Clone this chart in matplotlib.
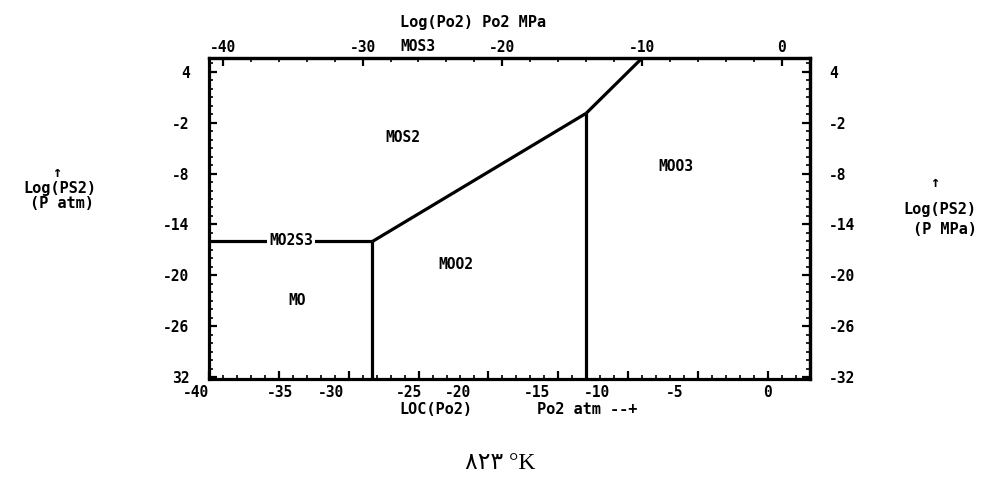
import matplotlib.pyplot as plt
from matplotlib.ticker import MultipleLocator, NullFormatter
import matplotlib.transforms as mtransforms

# Mo-S-O predominance diagram at 823 K
# x: log pO2 (atm), y: log pS2 (atm)
po2_lim = (-40, 3.0)
ps2_lim = (-32.2, 5.6)

# phase boundary segments (log pO2, log pS2)
mo2s3_mo_x = [-40, -28.3]
mo2s3_mo_y = [-16.0, -16.0]
mo_moo2_x = [-28.3, -28.3]
mo_moo2_y = [-16.0, -32.2]
mos2_moo2_x = [-28.3, -13.0]
mos2_moo2_y = [-16.0, -0.9]
mos2_moo3_x = [-13.0, -9.0]
mos2_moo3_y = [-0.9, 5.6]
moo2_moo3_x = [-13.0, -13.0]
moo2_moo3_y = [-0.9, -32.2]

# field labels
phase_names = ['MOS2', 'MOO3', 'MOO2', 'MO']
phase_x = [-26.1, -6.6, -22.3, -33.7]
phase_y = [-3.7, -7.2, -18.7, -23.0]

# bottom scale labels and where the plotter printed them
bottom_labels = ['-40', '-35', '-30', '-25', '-20', '-15', '-10', '-5', '0']
bottom_label_x = [-40.9, -34.9, -31.3, -25.7, -22.2, -16.5, -12.2, -6.7, 0.0]

top_ticks = [-40, -30, -20, -10, 0]
y_ticks = [4, -2, -8, -14, -20, -26, -32]
left_labels = ['4', '-2', '-8', '-14', '-20', '-26', '32']
right_labels = ['4', '-2', '-8', '-14', '-20', '-26', '-32']

atm_to_mpa = -0.994  # log10(0.101325)

mono = dict(family='DejaVu Sans Mono', weight='bold')
fs_tick = 10.5
fs_title = 11

fig = plt.figure(figsize=(9.98, 4.79), dpi=100)
ax = fig.add_axes([0.2094, 0.2088, 0.602, 0.670])

lw = 2.3
for xs, ys in [(mo2s3_mo_x, mo2s3_mo_y), (mo_moo2_x, mo_moo2_y),
               (mos2_moo2_x, mos2_moo2_y), (mos2_moo3_x, mos2_moo3_y),
               (moo2_moo3_x, moo2_moo3_y)]:
    ax.plot(xs, ys, color='black', lw=lw, solid_capstyle='butt')

for name, x, y in zip(phase_names, phase_x, phase_y):
    ax.text(x, y, name, ha='center', va='center', fontsize=fs_tick, **mono)

# label sitting on the Mo2S3 line
ax.text(-34.1, -15.9, 'MO2S3', ha='center', va='center', fontsize=fs_tick,
        bbox=dict(facecolor='white', edgecolor='none', pad=1.5), **mono)

ax.set_xlim(*po2_lim)
ax.set_ylim(*ps2_lim)
for sp in ax.spines.values():
    sp.set_linewidth(lw)

# bottom axis: ticks inside, labels placed by hand
ax.xaxis.set_major_locator(MultipleLocator(5))
ax.xaxis.set_minor_locator(MultipleLocator(1))
ax.xaxis.set_major_formatter(NullFormatter())
bx = mtransforms.blended_transform_factory(ax.transData, ax.transAxes)
for lab, x in zip(bottom_labels, bottom_label_x):
    ax.text(x, -0.043, lab, transform=bx, ha='center', va='center',
            fontsize=fs_tick, clip_on=False, **mono)

ax.set_yticks(y_ticks)
ax.set_yticklabels(left_labels, **mono, fontsize=fs_tick)
ax.yaxis.set_minor_locator(MultipleLocator(1))
ax.tick_params(which='major', direction='in', length=6, width=1.6, pad=14)
ax.tick_params(which='minor', direction='in', length=3, width=1.2)

# top axis in MPa
top = ax.secondary_xaxis('top', functions=(lambda x: x + atm_to_mpa,
                                           lambda t: t - atm_to_mpa))
top.set_xticks(top_ticks)
top.set_xticklabels([str(t) for t in top_ticks], **mono, fontsize=fs_tick)
top.xaxis.set_minor_locator(MultipleLocator(2))
top.tick_params(which='major', direction='in', length=6, width=1.6, pad=2)
top.tick_params(which='minor', direction='in', length=3, width=1.2)
top.spines['top'].set_linewidth(lw)
ax.text(-25.05, 1.012, 'MOS3', transform=bx, ha='center', va='bottom',
        fontsize=fs_tick, **mono)

# right axis
right = ax.secondary_yaxis('right')
right.set_yticks(y_ticks)
right.set_yticklabels(right_labels, **mono, fontsize=fs_tick)
right.yaxis.set_minor_locator(MultipleLocator(1))
right.tick_params(which='major', direction='in', length=6, width=1.6, pad=14)
right.tick_params(which='minor', direction='in', length=3, width=1.2)
right.spines['right'].set_linewidth(lw)

# axis titles
fig.text(0.474, 0.952, 'Log(Po2) Po2 MPa', ha='center', va='center',
         fontsize=fs_title, **mono)
fig.text(0.400, 0.146, 'LOC(Po2)', ha='left', va='center', fontsize=fs_title, **mono)
fig.text(0.538, 0.146, 'Po2 atm --+', ha='left', va='center', fontsize=fs_title, **mono)

fig.text(0.057, 0.640, '↑', ha='center', va='center', fontsize=fs_title, **mono)
fig.text(0.060, 0.607, 'Log(PS2)', ha='center', va='center', fontsize=fs_title, **mono)
fig.text(0.062, 0.576, '(P atm)', ha='center', va='center', fontsize=fs_title, **mono)

fig.text(0.937, 0.620, '↑', ha='center', va='center', fontsize=fs_title, **mono)
fig.text(0.942, 0.562, 'Log(PS2)', ha='center', va='center', fontsize=fs_title, **mono)
fig.text(0.947, 0.520, '(P MPa)', ha='center', va='center', fontsize=fs_title, **mono)

# temperature caption
fig.text(0.501, 0.033, '۸۲۳ °K', ha='center', va='center', fontsize=17,
         family=['Liberation Serif', 'DejaVu Sans'])

fig.savefig('out.png', dpi=100)
